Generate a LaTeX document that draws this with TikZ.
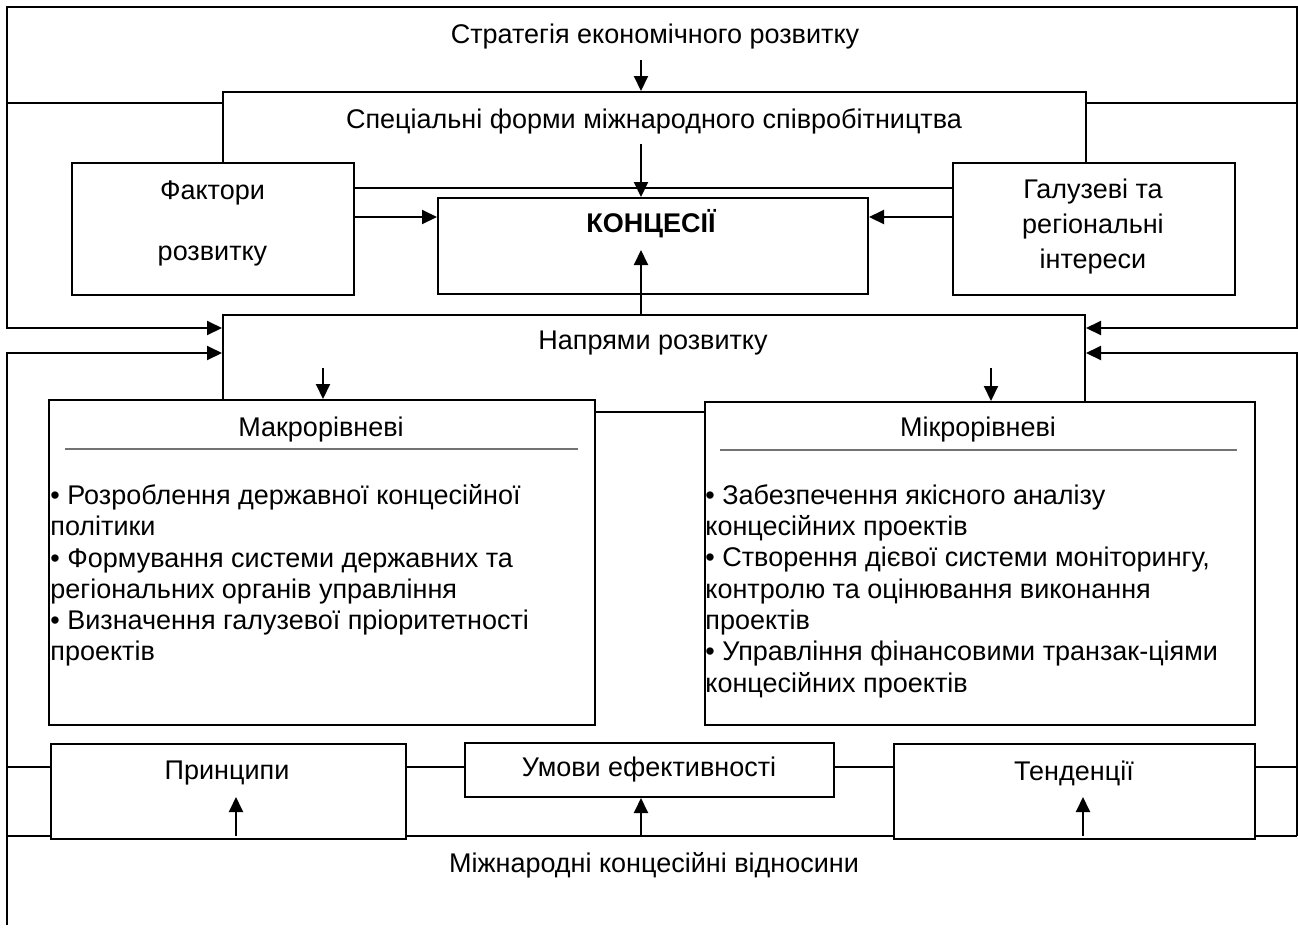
\documentclass[tikz,border=0pt]{standalone}
\usepackage{fontspec}
\setmainfont{Liberation Sans}
\usetikzlibrary{arrows.meta}
\begin{document}
\begin{tikzpicture}[x=0.5pt,y=-0.5pt,
  box/.style={draw, line width=1pt, fill=white, inner sep=0pt, anchor=north west},
  conn/.style={line width=1pt},
  arr/.style={line width=1pt, -{Triangle[length=7.5pt,width=7pt]}},
  sep/.style={line width=1pt, draw=black!55},
  lbl/.style={font=\fontsize{13.5}{16}\selectfont, inner sep=0pt},
  bul/.style={font=\fontsize{13.5}{15.65}\selectfont, inner sep=0pt, anchor=north west, align=left},
]
\useasboundingbox (0,0) rectangle (1298,928);

% frame of the strategy block and the bottom lines (covered by boxes)
\draw[conn] (7,103) -- (7,7) -- (1297,7) -- (1297,103);
\draw[conn] (7,103) -- (1297,103);
\draw[conn] (7,767) -- (1297,767);
\draw[conn] (7,836) -- (1297,836);

% boxes
\node[box, minimum width=431.5pt, minimum height=48pt] (spec) at (222,91) {};
\node[box, minimum width=141pt, minimum height=66pt] (fakt) at (71,162) {};
\node[box, minimum width=141pt, minimum height=66pt] (galuz) at (952,162) {};
\node[box, minimum width=215pt, minimum height=48pt] (konc) at (437,197) {};
\node[box, minimum width=431pt, minimum height=48.5pt] (napr) at (222,314) {};
\node[box, minimum width=273pt, minimum height=162.5pt] (makro) at (48,399) {};
\node[box, minimum width=275pt, minimum height=161.5pt] (mikro) at (704,401) {};
\node[box, minimum width=177.5pt, minimum height=47.5pt] (princ) at (50,743) {};
\node[box, minimum width=184.5pt, minimum height=27pt] (umovy) at (464,742) {};
\node[box, minimum width=180.5pt, minimum height=47.5pt] (tend) at (893,743) {};

% texts
\node[lbl] (tstrat) at (655,36.5) {Стратегія економічного розвитку};
\node[lbl] (tspec) at (654,121) {Спеціальні форми міжнародного співробітництва};
\node[lbl] (tfakt1) at (212.5,192.5) {Фактори};
\node[lbl] (tfakt2) at (212.5,256) {розвитку};
\node[lbl, align=center, font=\fontsize{13.5}{17.5}\selectfont] (tgaluz) at (1093,227) {Галузеві та\\регіональні\\інтереси};
\node[lbl, font=\fontsize{13.5}{16}\selectfont\bfseries] (tkonc) at (651,224) {КОНЦЕСІЇ};
\node[lbl] (tnapr) at (653,343) {Напрями розвитку};
\node[lbl] (tmakro) at (321,430) {Макрорівневі};
\node[lbl] (tmikro) at (978,430) {Мікрорівневі};
\node[bul] (lmakro) at (50,484) {• Розроблення державної концесійної\\політики\\• Формування системи державних та\\регіональних органів управління\\• Визначення галузевої пріоритетності\\проектів};
\node[bul] (lmikro) at (705,484) {• Забезпечення якісного аналізу\\концесійних проектів\\• Створення дієвої системи моніторингу,\\контролю та оцінювання виконання\\проектів\\• Управління фінансовими транзак-ціями\\концесійних проектів};
\node[lbl] (tprinc) at (227,773) {Принципи};
\node[lbl] (tumovy) at (649,770) {Умови ефективності};
\node[lbl] (ttend) at (1074,773) {Тенденції};
\node[lbl] (tmizh) at (654,865) {Міжнародні концесійні відносини};

% separators
\draw[sep] (65,449) -- (578,449);
\draw[sep] (720,450) -- (1237,450);

% connectors
\coordinate (s0) at (641,60);
\draw[arr] (s0) -- (s0 |- spec.north);
\coordinate (s1) at (641,144);
\draw[arr] (s1) -- (s1 |- konc.north);
\draw[arr] (fakt.east |- 0,217) -- (konc.west |- 0,217);
\draw[arr] (galuz.west |- 0,217) -- (konc.east |- 0,217);
\coordinate (k1) at (641,250);
\draw[arr] (k1 |- napr.north) -- (k1);
\coordinate (m1) at (323,368);
\draw[arr] (m1) -- (m1 |- makro.north);
\coordinate (m2) at (991,368);
\draw[arr] (m2) -- (m2 |- mikro.north);

\draw[arr] (7,60) -- (7,328) -- (7,328 -| napr.west);
\draw[arr] (1297,60) -- (1297,328) -- (1297,328 -| napr.east);
\draw[arr] (7,925) -- (7,353) -- (7,353 -| napr.west);
\draw[arr] (1297,836) -- (1297,353) -- (1297,353 -| napr.east);

\coordinate (b1) at (236,836);
\draw[arr] (b1) -- (236,797);
\coordinate (b2) at (641,836);
\draw[arr] (b2) -- (b2 |- umovy.south);
\coordinate (b3) at (1083,836);
\draw[arr] (b3) -- (1083,797);
\end{tikzpicture}
\end{document}
